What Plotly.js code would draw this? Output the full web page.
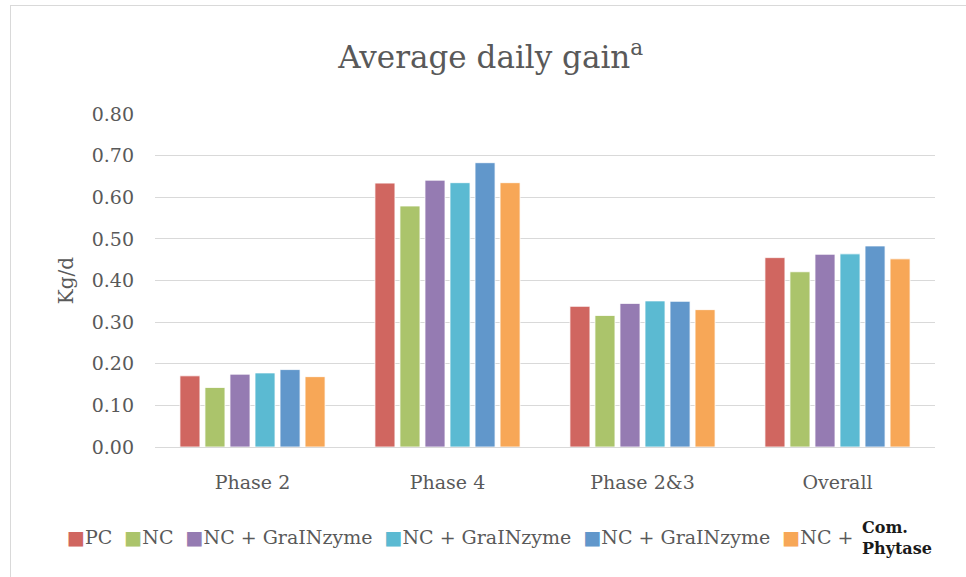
<!DOCTYPE html>
<html>
<head>
<meta charset="utf-8">
<script src="https://cdn.plot.ly/plotly-3.0.1.min.js"></script>
<style>
  html, body { margin: 0; padding: 0; background: #ffffff; overflow: hidden; }
  #frame { position: absolute; left: 10px; top: 5px; width: 970px; height: 590px;
           border-left: 1px solid #d9d9d9; border-top: 1px solid #d9d9d9; }
  #chart { position: absolute; left: 0; top: 0; width: 966px; height: 577px; }
</style>
</head>
<body>
<div id="frame"></div>
<div id="chart"></div>
<script>
const categories = ["Phase 2", "Phase 4", "Phase 2&3", "Overall"];
const seriesNames = ["PC", "NC", "NC + GraINzyme", "NC + GraINzyme", "NC + GraINzyme", "NC +"];
const seriesColors = ["#D06660", "#ABC46B", "#957BB2", "#5BBAD2", "#6197CB", "#F7A757"];
const valuesPC   = [0.171, 0.634, 0.338, 0.455];
const valuesNC   = [0.143, 0.579, 0.316, 0.421];
const valuesGZ1  = [0.175, 0.641, 0.345, 0.463];
const valuesGZ2  = [0.178, 0.635, 0.351, 0.464];
const valuesGZ3  = [0.186, 0.683, 0.350, 0.483];
const valuesPhy  = [0.169, 0.635, 0.330, 0.452];
const tickVals = [0, 0.1, 0.2, 0.3, 0.4, 0.5, 0.6, 0.7, 0.8];
const extraLegendText = "Com.<br>Phytase";

const allValues = [valuesPC, valuesNC, valuesGZ1, valuesGZ2, valuesGZ3, valuesPhy];
const serif = "DejaVu Serif, Liberation Serif, serif";
const gray = "#595959";

const traces = allValues.map((vals, i) => ({
  type: "bar",
  name: seriesNames[i],
  x: categories,
  y: vals,
  marker: { color: seriesColors[i], line: { color: "rgba(255,255,255,0.8)", width: 1 } },
  hoverinfo: "y"
}));

const legendText = seriesNames.map((n, i) =>
  '<span style="color:' + seriesColors[i] + '">\u25A0</span>' + n
).join('\u00A0\u00A0');

const layout = {
  width: 966, height: 577,
  margin: { l: 155, r: 31, t: 114, b: 130 },
  paper_bgcolor: "rgba(0,0,0,0)",
  plot_bgcolor: "rgba(0,0,0,0)",
  barmode: "group",
  bargap: 0.23,
  bargroupgap: 0.2,
  showlegend: false,
  title: {
    text: "Average daily gain<sup>a</sup>",
    font: { family: serif, size: 31, color: gray },
    xref: "container", x: 0.508, xanchor: "center",
    yref: "container", y: 0.901, yanchor: "middle"
  },
  xaxis: {
    type: "category",
    tickfont: { family: serif, size: 19, color: gray },
    showline: true, linecolor: "#d9d9d9", linewidth: 1,
    ticks: "", ticklabelstandoff: 18,
    showgrid: false, fixedrange: true
  },
  yaxis: {
    range: [0, 0.8],
    tickvals: tickVals,
    tickformat: ".2f",
    tickfont: { family: serif, size: 19, color: gray },
    showgrid: true, gridcolor: "#d9d9d9", gridwidth: 1,
    zeroline: false, showline: false,
    ticks: "", ticklabelstandoff: 20,
    title: { text: "Kg/d", font: { family: serif, size: 20, color: gray }, standoff: 12 },
    fixedrange: true
  },
  annotations: [
    {
      text: legendText, showarrow: false,
      xref: "paper", yref: "paper",
      x: (65 - 155) / 780, xanchor: "left",
      y: -0.269, yanchor: "middle",
      font: { family: serif, size: 19, color: gray }
    },
    {
      text: "<b>" + extraLegendText + "</b>", showarrow: false,
      xref: "paper", yref: "paper",
      x: (860 - 155) / 780, xanchor: "left",
      y: -0.272, yanchor: "middle", align: "left",
      font: { family: serif, size: 16, color: "#1a1a1a" }
    }
  ]
};

Plotly.newPlot("chart", traces, layout, { displayModeBar: false, staticPlot: true });
</script>
</body>
</html>
